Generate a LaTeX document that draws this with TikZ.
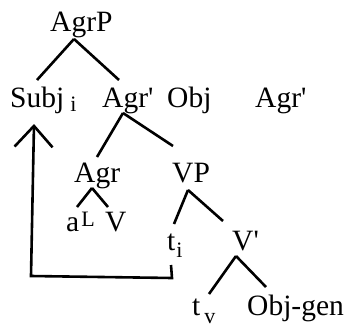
\documentclass[tikz,border=0pt]{standalone}
\usepackage{fontspec}
\setmainfont{Liberation Serif}
\usetikzlibrary{arrows.meta,calc}

\newcommand\treefont{\fontsize{29.5}{34}\selectfont}
\newcommand\idxfont{\fontsize{22}{24}\selectfont}

\begin{document}
\begin{tikzpicture}[x=1pt, y=-1pt,
  lab/.style={anchor=base west, inner sep=0pt, font=\treefont},
  br/.style={line width=2.6pt},
  move/.style={br, -{Straight Barb[length=21pt, width=38pt]}}]
\useasboundingbox (0,0) rectangle (350,329);
% labels
\node[lab] (agrp)   at (50,31)   {AgrP};
\node[lab] (subj)   at (10,107)  {Subj\kern6pt\raisebox{-4pt}{\idxfont i}};
\node[lab] (agrbar) at (102,107) {Agr\textquotesingle};
\node[lab] (obj)    at (167,107) {Obj};
\node[lab] (agrbr2) at (255,107) {Agr\textquotesingle};
\node[lab] (agr)    at (74,182)  {Agr};
\node[lab] (vp)     at (172,182) {VP};
\node[lab] (al)     at (66,231)  {a\kern2pt\raisebox{5pt}{\idxfont L}};
\node[lab] (v)      at (105,231) {V};
\node[lab] (ti)     at (167,250) {t\kern1pt\raisebox{-7pt}{\idxfont i}};
\node[lab] (vbar)   at (232,250) {V\textquotesingle};
\node[lab] (tv)     at (192,315) {t\kern4pt\raisebox{-8pt}{\idxfont v}};
\node[lab] (objgen) at (247,315) {Obj-gen};
% branches
\draw[br] ($(agrp.base west)+(24,8)$) -- ($(subj.base west)+(27,-27)$);
\draw[br] ($(agrp.base west)+(24,8)$) -- ($(agrbar.base west)+(17,-27)$);
\draw[br] ($(agrbar.base west)+(21,6)$) -- ($(agr.base west)+(23,-25)$);
\draw[br] ($(agrbar.base west)+(21,6)$) -- ($(vp.base west)+(1,-36)$);
\draw[br] ($(agr.base west)+(18,6)$) -- ($(al.base west)+(11,-24)$);
\draw[br] ($(agr.base west)+(18,6)$) -- ($(v.base west)+(3,-24)$);
\draw[br] ($(vp.base west)+(16,8)$) -- ($(ti.base west)+(7,-26)$);
\draw[br] ($(vp.base west)+(16,8)$) -- ($(vbar.base west)+(-9,-29)$);
\draw[br] ($(vbar.base west)+(4,6)$) -- ($(tv.base west)+(17,-21)$);
\draw[br] ($(vbar.base west)+(4,6)$) -- ($(objgen.base west)+(19,-28)$);
% movement
\draw[move] ($(ti.base west)+(4,15)$) -- ($(ti.base west)+(5,28)$)
  -- ($(subj.base west)+(21,169)$) -- ($(subj.base west)+(24,17)$);
\end{tikzpicture}
\end{document}
